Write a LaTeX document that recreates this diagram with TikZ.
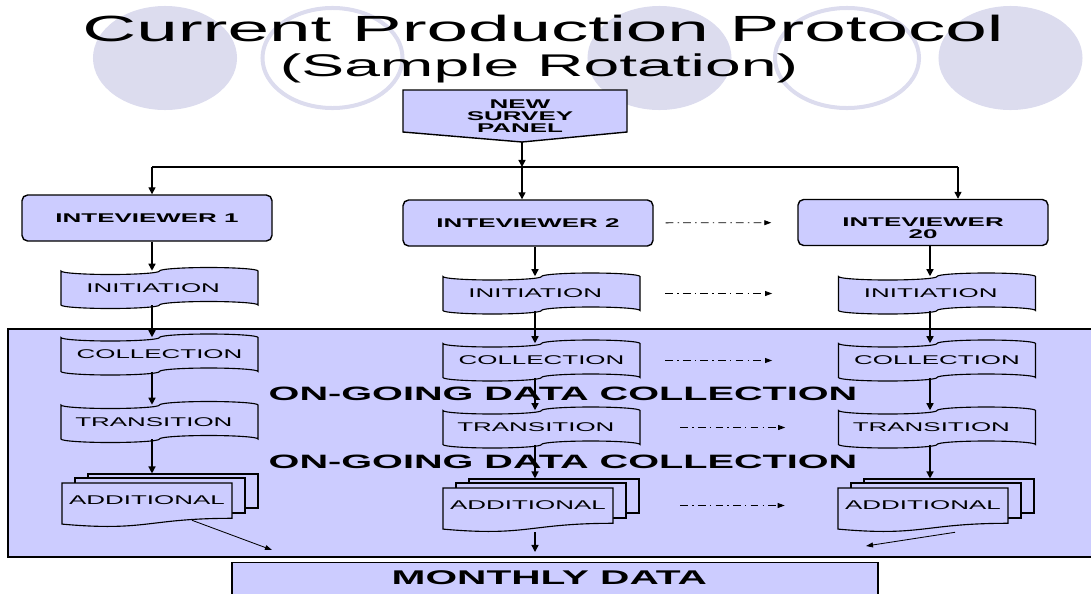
\documentclass[tikz,border=0pt]{standalone}
\usepackage{fontspec}
\setmainfont{Liberation Sans}[FakeStretch=2.05]
\usetikzlibrary{arrows.meta,calc}
\definecolor{boxfill}{RGB}{204,204,255}
\definecolor{deco}{RGB}{220,220,238}
\def\pxu{0.025cm}
\def\wavea{0.0875cm}
% punched-tape outline: centre x, centre y, width, height of the body (pixels)
\newcommand\tapeoutline[4]{%
  \pgfmathsetmacro\tpL{#1-#3/2}%
  \pgfmathsetmacro\tpR{#1+#3/2}%
  \pgfmathsetmacro\tpT{#2-#4/2}%
  \pgfmathsetmacro\tpB{#2+#4/2}%
  \pgfmathsetmacro\tprx{#3/4*0.025}%
  \draw[shapeline] (\tpL,\tpT)
    arc[start angle=180,end angle=360,x radius=\tprx cm,y radius=\wavea]
    arc[start angle=180,end angle=0,x radius=\tprx cm,y radius=\wavea]
    -- (\tpR,\tpB)
    arc[start angle=0,end angle=180,x radius=\tprx cm,y radius=\wavea]
    arc[start angle=0,end angle=-180,x radius=\tprx cm,y radius=\wavea]
    -- cycle;}
% document outline with a wavy foot: left, top, width, height (pixels)
\newcommand\docoutline[4]{%
  \pgfmathsetmacro\dcR{#1+#3}%
  \pgfmathsetmacro\dcM{#1+#3/2}%
  \pgfmathsetmacro\dcA{#2+0.802*#4}%
  \pgfmathsetmacro\dcC{#2+1.107*#4}%
  \pgfmathsetmacro\dcD{#2+0.934*#4}%
  \draw[shapeline] (#1,#2) -- (\dcR,#2) -- (\dcR,\dcA)
    .. controls (\dcM,\dcA) and (\dcM,\dcC) .. (#1,\dcD) -- cycle;}
% a process step on punched tape, with its text node (last argument: right-hand kern of the text)
\newcommand\tapenode[5]{%
  \tapeoutline{#2}{#3}{197}{34}%
  \node[lbl, minimum width=197*\pxu, minimum height=34*\pxu] (#1) at (#2,#3) {#4\kern#5};}
\begin{document}
\begin{tikzpicture}[x=0.025cm,y=-0.025cm,
  every node/.style={inner sep=0pt},
  lbl/.style={font=\fontsize{9}{8.5}\selectfont},
  blbl/.style={font=\bfseries\fontsize{9}{8.5}\selectfont, align=center},
  shapeline/.style={draw, fill=boxfill, line width=0.8pt},
  ibox/.style={draw, fill=boxfill, line width=1pt, rounded corners=4pt,
    minimum width=250*\pxu, minimum height=46*\pxu, blbl},
  sheet/.style={draw, fill=boxfill, line width=0.8pt,
    minimum width=170*\pxu, minimum height=34*\pxu},
  arr/.style={line width=1pt, -{Triangle[length=5pt,width=5pt]}},
  thinarr/.style={line width=0.6pt, -{Triangle[length=5pt,width=3.5pt]}},
  dd/.style={line width=0.6pt, dash pattern=on 5.5pt off 3pt on 1pt off 3pt,
    -{Triangle[length=5pt,width=3.5pt]}},
  big/.style={font=\bfseries\fontsize{13.75}{15}\selectfont, anchor=base},
]
\useasboundingbox (0,0) rectangle (1091,593);
\clip (0,0) rectangle (1091,593);

% decorative discs and rings behind the title
\fill[deco] (165,58) ellipse [x radius=1.8cm, y radius=1.3cm];
\draw[deco, line width=2.85pt] (332.5,58) ellipse [x radius=1.75cm, y radius=1.25cm];
\fill[deco] (659.5,58) ellipse [x radius=1.8cm, y radius=1.3cm];
\draw[deco, line width=2.85pt] (847,58) ellipse [x radius=1.8cm, y radius=1.25cm];
\fill[deco] (1010.5,58) ellipse [x radius=1.8cm, y radius=1.3cm];

% title
\node[font=\fontsize{25.9}{28}\selectfont, anchor=base] (t1) at (543,41) {Current Production Protocol};
\node[font=\fontsize{22.3}{24}\selectfont, anchor=base] (t2) at (539,76) {(Sample Rotation)};

% ongoing collection region
\draw[fill=boxfill, line width=1pt] (8,329) rectangle (1100,557);

% new survey panel (off-page connector)
\coordinate (ptip) at (522,142);
\draw[fill=boxfill, line width=1pt] (403,90) -- (627,90) -- (627,132) -- (ptip) -- (403,132) -- cycle;
\node[blbl] (panel) at (520,116) {NEW\\SURVEY\\PANEL};

% interviewers
\node[ibox] (int1) at (147,218) {INTEVIEWER 1};
\node[ibox] (int2) at (528,223) {INTEVIEWER 2};
\node[ibox] (int20) at (923,222.5) {};
\node[blbl] (int20t) at (923,228) {INTEVIEWER\\20};

% process steps
\tapenode{ini1}{159.5}{288}{INITIATION}{9pt}
\tapenode{coll1}{159.5}{354.5}{COLLECTION}{0pt}
\tapenode{tra1}{159.5}{422}{TRANSITION}{8pt}
\tapenode{ini2}{541.5}{293.5}{INITIATION}{9pt}
\tapenode{coll2}{541.5}{360.5}{COLLECTION}{0pt}
\tapenode{tra2}{541.5}{427.5}{TRANSITION}{8pt}
\tapenode{ini3}{937}{293.5}{INITIATION}{9pt}
\tapenode{coll3}{937}{360.5}{COLLECTION}{0pt}
\tapenode{tra3}{937}{427.5}{TRANSITION}{8pt}

% stacked documents
\foreach \n/\L/\T in {1/62/483, 2/443/488, 3/838/488}{
  \node[sheet] (add\n b) at (\L+111,\T+8) {};
  \node[sheet, minimum height=35*\pxu] (add\n m) at (\L+98,\T+12.5) {};
  \docoutline{\L}{\T}{170}{44}
  \node[lbl, minimum width=170*\pxu, minimum height=35*\pxu] (add\n) at (\L+85,\T+17.5) {ADDITIONAL};
}

% monthly output
\node[draw, fill=boxfill, line width=1pt, anchor=north, minimum width=646*\pxu,
  font=\bfseries\fontsize{14.1}{15}\selectfont, text height=15.6pt, text depth=11.4pt]
  (monthly) at (555,562) {MONTHLY DATA\kern8pt};

% distribution of the new panel
\coordinate (hub) at (522,167);
\coordinate (hl) at (152,167);
\coordinate (hr) at (958,167);
\draw[arr] (ptip) -- (hub);
\draw[line width=1pt] (hl) -- (hr);
\draw[arr] (hl) -- (hl |- int1.north);
\draw[arr] (hub) -- (hub |- int2.north);
\draw[arr] (hr) -- (hr |- int20.north);

% flow down each column
\coordinate (k1) at (152,0);
\coordinate (k2) at (535,0);
\coordinate (k3) at (930,0);
\draw[arr] (k1 |- int1.south) -- (k1 |- ini1.north);
\draw[arr] (k2 |- int2.south) -- (k2 |- ini2.north);
\draw[arr] (k3 |- int20.south) -- (k3 |- ini3.north);
\foreach \i/\c in {1/k1, 2/k2, 3/k3}{
  \draw[arr] (\c |- ini\i.south) -- (\c |- coll\i.north);
  \draw[arr] (\c |- coll\i.south) -- (\c |- tra\i.north);
  \draw[arr] (\c |- tra\i.south) -- (\c |- add\i b.north);
}

% hand-over to the monthly data
\coordinate (m1) at (272,550);
\coordinate (m2) at (535,552);
\coordinate (m3) at (866,546);
\draw[thinarr] ($(add1.south)+(45,2)$) -- (m1);
\draw[arr, shorten <=6.4pt] (k2 |- add2.south) -- (m2);
\draw[thinarr] ($(add3.south)+(32,9)$) -- (m3);

% continuation towards the remaining interviewers
\draw[dd, shorten <=8.5pt, shorten >=18.5pt] (int2) -- (int20);
\draw[dd, shorten <=17.8pt, shorten >=47pt] (ini2) -- (ini3);
\draw[dd, shorten <=17.8pt, shorten >=47pt] (coll2) -- (coll3);
\draw[dd, shorten <=28.5pt, shorten >=37.7pt] (tra2) -- (tra3);
\draw[dd, shorten <=47.7pt, shorten >=37.7pt] (add2) -- (add3);

% region captions
\node[big] (og1) at (563,400) {ON-GOING DATA COLLECTION};
\node[big] (og2) at (563,468) {ON-GOING DATA COLLECTION};
\end{tikzpicture}
\end{document}
